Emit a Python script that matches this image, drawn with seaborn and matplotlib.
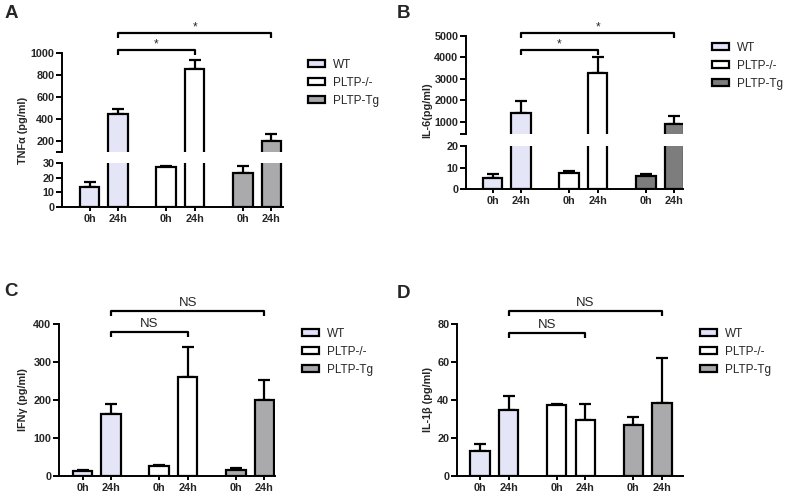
import numpy as np
import pandas as pd
import matplotlib
matplotlib.use("Agg")
import matplotlib.pyplot as plt
import matplotlib.transforms as mtransforms
from matplotlib.patches import Patch
import seaborn as sns

# ---------------- data ----------------
groups = ["WT", "PLTP-/-", "PLTP-Tg"]
times = ["0h", "24h"]

tnf_mean = [13.5, 443, 27, 855, 23.5, 200]
tnf_err = [3.7, 48, 1.0, 80, 4.5, 61]

il6_mean = [5.3, 1430, 7.5, 3260, 6.0, 905]
il6_err = [1.5, 545, 0.9, 750, 1.2, 355]

ifn_mean = [13, 163, 27, 260, 17, 199]
ifn_err = [4, 26, 1.5, 79, 4.5, 53]

il1b_mean = [13, 34.6, 37.2, 29.5, 26.8, 38.6]
il1b_err = [3.7, 7.7, 0.9, 8.2, 4.0, 23.4]

tnf_upper_ticks = [200, 400, 600, 800, 1000]
tnf_lower_ticks = [0, 10, 20, 30]
il6_upper_ticks = [1000, 2000, 3000, 4000, 5000]
il6_lower_ticks = [0, 10, 20]
ifn_ticks = [0, 100, 200, 300, 400]
il1b_ticks = [0, 20, 40, 60, 80]

# ---------------- style ----------------
sns.set_theme(style="ticks")
plt.rcParams["font.family"] = ["Liberation Sans", "DejaVu Sans"]
plt.rcParams["axes.edgecolor"] = "black"

W, H = 787, 493
fig = plt.figure(figsize=(W / 100, H / 100), dpi=100)

LW = 1.6
STEP = 2.68
UNIT = 28.6
BAR_W = 0.68
pos = [g * STEP + t for g in range(len(groups)) for t in range(len(times))]
xlabels = [t for g in groups for t in times]
grp_col = [g for g in groups for t in times]

pal_light = {"WT": "#e2e2fb", "PLTP-/-": "#ffffff", "PLTP-Tg": "#a9a9ad"}
pal_dark = {"WT": "#e2e2fb", "PLTP-/-": "#ffffff", "PLTP-Tg": "#7d7d7d"}


def px_axes(x0, x1, ytop, ybot, c0):
    ax = fig.add_axes([x0 / W, 1 - ybot / H, (x1 - x0) / W, (ybot - ytop) / H])
    ax._c0 = (x0, x1, c0)
    return ax


def draw(ax, mean, err, pal, ylim, ticks, ticklabels=None, bottom=True):
    df = pd.DataFrame({"pos": pos, "val": mean, "grp": grp_col})
    sns.barplot(data=df, x="pos", y="val", hue="grp", hue_order=groups,
                palette=pal, native_scale=True, dodge=False, width=BAR_W,
                edgecolor="black", linewidth=LW, errorbar=None, legend=False,
                ax=ax, zorder=2)
    ax.errorbar(pos, mean, yerr=[np.zeros(len(err)), err], fmt="none",
                ecolor="black", elinewidth=LW, capsize=4, capthick=LW, zorder=1)
    x0, x1, c0 = ax._c0
    ax.set_xlim(-(c0 - x0) / UNIT, (x1 - c0) / UNIT)
    ax.set_ylim(*ylim)
    ax.set_xlabel("")
    ax.set_ylabel("")
    ax.set_yticks(ticks)
    if ticklabels is None:
        ticklabels = [str(t) for t in ticks]
    ax.set_yticklabels(ticklabels, fontsize=7.8, fontweight="bold")
    for sp in ["top", "right"]:
        ax.spines[sp].set_visible(False)
    ax.spines["left"].set_linewidth(1.4)
    ax.spines["bottom"].set_linewidth(1.4)
    ax.tick_params(axis="y", length=4, width=1.4, pad=1.5, color="black")
    if bottom:
        ax.set_xticks(pos)
        ax.set_xticklabels(xlabels, fontsize=7.8, fontweight="bold")
        ax.tick_params(axis="x", length=3, width=1.4, pad=2, color="black")
    else:
        ax.spines["bottom"].set_visible(False)
        ax.set_xticks([])
    ax.set_facecolor("none")


def bracket(ax, i, j, ypx, label, fs, off):
    tr = mtransforms.blended_transform_factory(ax.transData, fig.transFigure)
    y = 1 - ypx / H
    yd = 1 - (ypx + 4.5) / H
    ax.plot([pos[i], pos[i], pos[j], pos[j]], [yd, y, y, yd], color="black",
            lw=LW, transform=tr, clip_on=False, solid_capstyle="butt")
    ax.text((pos[i] + pos[j]) / 2, 1 - (ypx - off) / H, label, ha="center",
            va="bottom", fontsize=fs, transform=tr)


def legend(xpx, ypx, pal):
    handles = [Patch(facecolor=pal[g], edgecolor="black", linewidth=LW, label=g)
               for g in groups]
    fig.legend(handles=handles, loc="upper left",
               bbox_to_anchor=(xpx / W, 1 - ypx / H), frameon=False,
               fontsize=8.5, handlelength=1.4, handleheight=0.55,
               handletextpad=0.7, labelspacing=0.5, borderpad=0,
               borderaxespad=0)


def ylabel(xpx, ypx, text):
    fig.text(xpx / W, 1 - ypx / H, text, rotation=90, ha="center", va="center",
             fontsize=7.8, fontweight="bold")


def letter(xpx, ypx, text):
    fig.text(xpx / W, 1 - ypx / H, text, ha="center", va="center",
             fontsize=13.5, fontweight="bold")


# ---------------- Panel A ----------------
axA_top = px_axes(62, 283, 53, 152, 89.5)
draw(axA_top, tnf_mean, tnf_err, pal_light, (100, 1000), [100] + tnf_upper_ticks,
     [""] + [str(t) for t in tnf_upper_ticks], bottom=False)
axA_bot = px_axes(62, 283, 163, 207, 89.5)
draw(axA_bot, tnf_mean, tnf_err, pal_light, (0, 30), tnf_lower_ticks)
bracket(axA_top, 1, 5, 33, "*", 8.5, -0.5)
bracket(axA_top, 1, 3, 50, "*", 8.5, -0.5)
legend(308, 59, pal_light)
ylabel(23, 130, "TNFα (pg/ml)")
letter(11, 13, "A")

# ---------------- Panel B ----------------
axB_top = px_axes(466, 683, 36, 134, 492.5)
draw(axB_top, il6_mean, il6_err, pal_dark, (440, 5000), [440] + il6_upper_ticks,
     [""] + [str(t) for t in il6_upper_ticks], bottom=False)
axB_bot = px_axes(466, 683, 146, 189, 492.5)
draw(axB_bot, il6_mean, il6_err, pal_dark, (0, 20), il6_lower_ticks)
bracket(axB_top, 1, 5, 33, "*", 8.5, -0.5)
bracket(axB_top, 1, 3, 50, "*", 8.5, -0.5)
legend(712, 42, pal_dark)
ylabel(427, 110, "IL-6(pg/ml)")
letter(403, 13, "B")

# ---------------- Panel C ----------------
axC = px_axes(59, 275, 324, 476, 82.5)
draw(axC, ifn_mean, ifn_err, pal_light, (0, 400), ifn_ticks)
bracket(axC, 1, 5, 311, "NS", 9.5, 2)
bracket(axC, 1, 3, 332, "NS", 9.5, 2)
legend(302, 328, pal_light)
ylabel(23, 400, "IFNγ (pg/ml)")
letter(11, 292, "C")

# ---------------- Panel D ----------------
axD = px_axes(457, 683, 324, 476, 480)
draw(axD, il1b_mean, il1b_err, pal_light, (0, 80), il1b_ticks)
bracket(axD, 1, 5, 311, "NS", 9.5, 2)
bracket(axD, 1, 3, 333, "NS", 9.5, 2)
legend(700, 328, pal_light)
ylabel(428, 400, "IL-1β (pg/ml)")
letter(403, 293, "D")

fig.savefig("out.png", dpi=100)
